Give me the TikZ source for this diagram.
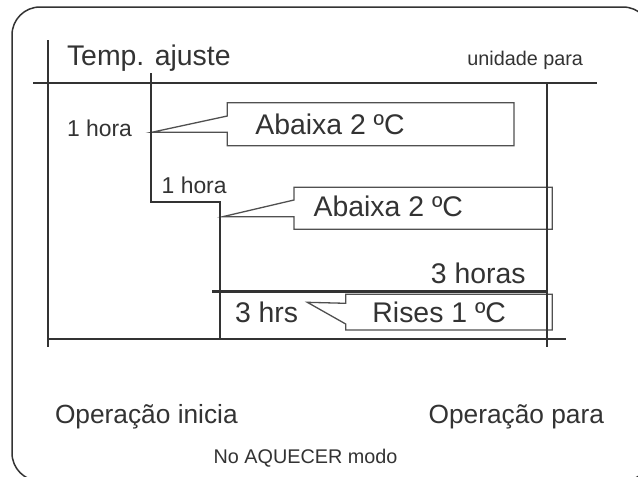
\documentclass[tikz,border=0pt]{standalone}
\usepackage{fontspec}
\setmainfont{Liberation Sans}
\definecolor{ink}{HTML}{333333}
\definecolor{boxc}{HTML}{505050}
\begin{document}
\begin{tikzpicture}[x=1pt,y=-1pt,
  axis/.style={draw=ink,line width=2pt},
  heavy/.style={draw=ink,line width=2.7pt},
  callout/.style={draw=boxc,line width=1.3pt,line join=miter},
  frame/.style={draw=ink,line width=1.5pt,rounded corners=28pt},
  txt/.style={text=ink,inner sep=0pt,outer sep=0pt},
  big/.style={font=\fontsize{28.4}{30}\selectfont},
  mid/.style={font=\fontsize{22.9}{25}\selectfont},
  op/.style={font=\fontsize{26.3}{28}\selectfont},
  small/.style={font=\fontsize{19.8}{22}\selectfont}]
\useasboundingbox (0,0) rectangle (638,477);
\clip (0,0) rectangle (638,477);
\fill[white] (0,0) rectangle (638,477);
% outer frame
\draw[frame] (12,7) rectangle (651,481);
% callout boxes
\draw[callout] (227.3,102.7) -- (514,102.7) -- (514,145.7) -- (227.3,145.7) -- (227.3,132.3) -- (151.7,132.3) -- (227.3,116) -- cycle;
\draw[callout] (294,187.3) -- (552.3,187.3) -- (552.3,229.3) -- (294,229.3) -- (294,216.7) -- (222.7,216.7) -- (294,200) -- cycle;
\draw[callout] (345.7,294.3) -- (552.3,294.3) -- (552.3,330) -- (345.7,330) -- (345.7,324) -- (307.3,302.3) -- (345.7,303.3) -- cycle;
% axes
\draw[axis] (48,40) -- (48,347);
\draw[axis] (33,82.7) -- (596.7,82.7);
\draw[axis] (547,82.7) -- (547,347);
\draw[axis] (48,339) -- (566,339);
\draw[axis,line join=miter] (150.7,73.3) |- (220,202.3) -- (220,339);
\draw[heavy] (212,291.7) -- (547,291.7);
% texts
\node[txt,big,anchor=base west] (temp) at (67,65) {Temp. ajuste};
\node[txt,small,anchor=base east] (unid) at (583,65) {unidade para};
\node[txt,mid,anchor=base west] (h1) at (67,136.7) {1 hora};
\node[txt,mid,anchor=base west] (h2) at (161.7,193.3) {1 hora};
\node[txt,big,anchor=base] (ab1) at (330,134) {Abaixa 2 ºC};
\node[txt,big,anchor=base] (ab2) at (388.3,216.7) {Abaixa 2 ºC};
\node[txt,big,anchor=base east] (h3) at (525.7,283.3) {3 horas};
\node[txt,big,anchor=base west] (hrs) at (235,322.7) {3 hrs};
\node[txt,big,anchor=base] (rises) at (439.2,322.7) {Rises 1 ºC};
\node[txt,op,anchor=base west] (opi) at (55,423) {Operação inicia};
\node[txt,op,anchor=base east] (opp) at (604,423) {Operação para};
\node[txt,small,anchor=base] (modo) at (305.5,463) {No AQUECER modo};
\end{tikzpicture}
\end{document}
